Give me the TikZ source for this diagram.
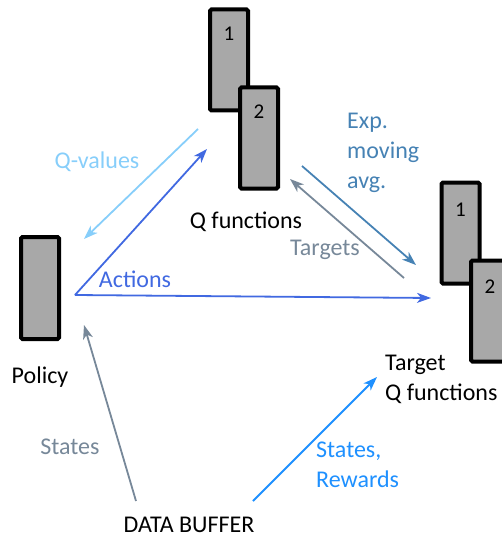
\documentclass[tikz,border=0pt]{standalone}
\usepackage{fontspec}
\setmainfont{Carlito}
\usetikzlibrary{arrows.meta}
\definecolor{boxgray}{RGB}{168,168,168}
\definecolor{qvalcol}{RGB}{135,206,250}
\definecolor{actcol}{RGB}{65,105,225}
\definecolor{avgcol}{RGB}{70,130,180}
\definecolor{tgtcol}{RGB}{119,136,153}
\definecolor{rewcol}{RGB}{30,144,255}
\tikzset{
  netbox/.style={draw=black, fill=boxgray, line width=4pt, rounded corners=1.5pt,
    minimum width=38pt, minimum height=101pt, inner sep=0pt},
  boxnum/.style={font=\fontsize{21}{21}\selectfont, inner sep=0pt},
  lbl/.style={font=\fontsize{24}{30}\selectfont, inner sep=0pt, align=left},
  flow/.style={line width=1.8pt, -{Stealth[length=14pt,width=10pt,inset=4pt]}},
}
\begin{document}
\begin{tikzpicture}[x=1pt,y=-1pt]
\useasboundingbox (0,0) rectangle (502,540);

% Q function pair
\node[netbox] (q1) at (229,60) {};
\node[netbox] (q2) at (259,138) {};
\node[boxnum] at (229,34) {1};
\node[boxnum] at (259,112) {2};

% target Q function pair
\node[netbox] (t1) at (460.5,233) {};
\node[netbox] (t2) at (490,311) {};
\node[boxnum] at (460.5,210) {1};
\node[boxnum] at (490,287) {2};

% policy
\node[netbox, minimum height=102pt] (pol) at (40,288) {};

% captions
\node[lbl] (qcap) at (246,222) {Q functions};
\node[lbl] (pcap) at (40,377) {Policy};
\node[lbl, anchor=west] (tcap) at (385,379) {Target\\Q functions};
\node[lbl] (dbuf) at (189,525) {DATA BUFFER};

% connector end points
\coordinate (qvA) at (198,129);
\coordinate (qvB) at (84,239);
\coordinate (pOut) at (75,295);
\coordinate (qIn) at (207,149);
\coordinate (tIn) at (431,298);
\coordinate (avA) at (302,166);
\coordinate (avB) at (416,265);
\coordinate (tgA) at (404,278);
\coordinate (tgB) at (290,179);
\coordinate (dbA) at (136,501);
\coordinate (pIn) at (84,325);
\coordinate (dbB) at (253,501);
\coordinate (trIn) at (377,377);

% data flow
\draw[flow, qvalcol] (qvA) -- (qvB);
\draw[flow, actcol] (pOut) -- (qIn);
\draw[flow, actcol] (pOut) -- (tIn);
\draw[flow, avgcol] (avA) -- (avB);
\draw[flow, tgtcol] (tgA) -- (tgB);
\draw[flow, tgtcol] (dbA) -- (pIn);
\draw[flow, rewcol] (dbB) -- (trIn);

% connector labels
\node[lbl, text=qvalcol] at (97,162) {Q-values};
\node[lbl, text=actcol] at (135,279) {Actions};
\node[lbl, text=avgcol, anchor=west] at (347,153) {Exp.\\moving\\avg.};
\node[lbl, text=tgtcol] at (325,250) {Targets};
\node[lbl, text=tgtcol] at (70,447) {States};
\node[lbl, text=rewcol, anchor=west] at (316,465) {States,\\Rewards};
\end{tikzpicture}
\end{document}
